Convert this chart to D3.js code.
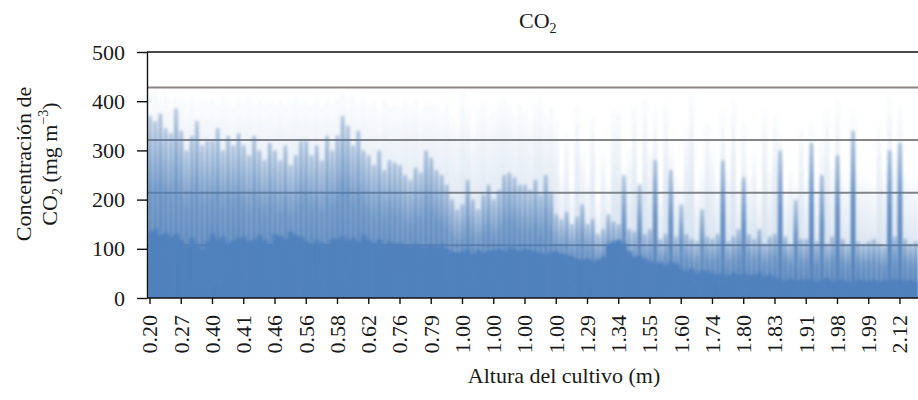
<!DOCTYPE html>
<html>
<head>
<meta charset="utf-8">
<script src="https://cdn.jsdelivr.net/npm/d3@7.9.0/dist/d3.min.js"></script>
<style>
  body { margin: 0; background: #fff; }
  svg { display: block; font-family: "Liberation Serif", "DejaVu Serif", serif; }
  .axis text { font-size: 22px; fill: #1a1a1a; font-family: "Liberation Serif", serif; }
  .axis path, .axis line { stroke: #111; stroke-width: 1.4; }
</style>
</head>
<body>
<svg id="chart" width="918" height="400"></svg>
<script>
// labels shown under every 6th sample (crop height, m)
const tickLabels = [
  "0.20", "0.27", "0.40", "0.41", "0.46", "0.56", "0.58", "0.62", "0.76", "0.79",
  "1.00", "1.00", "1.00", "1.00", "1.29", "1.34", "1.55", "1.60", "1.74", "1.80",
  "1.83", "1.91", "1.98", "1.99", "2.12",
];
const yTicks = [0, 100, 200, 300, 400, 500];
const refLines = [107, 214, 321, 428];

// CO2 per sample: solid floor, typical top, faint max
const base = [
  135, 140, 128, 132, 125, 130, 118, 105, 122, 110, 100, 115,
  130, 120, 125, 112, 118, 122, 125, 115, 120, 128, 118, 110,
  130, 126, 120, 135, 128, 124, 115, 110, 118, 112, 108, 120,
  120, 125, 118, 122, 115, 128, 118, 112, 120, 108, 115, 110,
  112, 108, 105, 110, 106, 104, 108, 104, 110, 100, 95, 92,
  95, 100, 90, 98, 92, 96, 98, 100, 95, 102, 100, 96,
  100, 98, 95, 92, 90, 94, 95, 90, 88, 85, 80, 78,
  80, 75, 78, 84, 110, 115, 118, 110, 95, 85, 86, 80,
  75, 70, 72, 68, 74, 70, 58, 55, 60, 52, 56, 54,
  52, 48, 50, 46, 52, 48, 50, 46, 48, 52, 44, 48,
  42, 38, 35, 40, 36, 38, 38, 36, 34, 38, 40, 35,
  36, 38, 34, 32, 38, 35, 34, 36, 32, 35, 33, 38,
  38, 35, 36, 34,
];
const mid = [
  370, 360, 375, 345, 335, 385, 340, 300, 330, 360, 310, 320,
  320, 345, 300, 330, 310, 335, 310, 290, 330, 300, 280, 315,
  300, 280, 310, 270, 290, 320, 320, 290, 310, 280, 330, 300,
  330, 370, 350, 310, 340, 300, 290, 270, 300, 260, 280, 275,
  270, 250, 240, 265, 255, 300, 285, 260, 250, 230, 200, 180,
  190, 240, 200, 180, 210, 230, 200, 220, 250, 255, 245, 230,
  230, 220, 240, 210, 250, 215, 170, 160, 175, 150, 165, 190,
  150, 160, 130, 140, 170, 155, 150, 250, 140, 135, 230, 130,
  140, 280, 120, 130, 260, 125, 190, 130, 120, 115, 180, 125,
  120, 130, 280, 115, 125, 140, 245, 130, 120, 140, 110, 125,
  130, 300, 125, 110, 200, 120, 120, 315, 115, 250, 110, 125,
  290, 120, 110, 340, 115, 110, 115, 120, 110, 105, 300, 125,
  315, 120, 110, 115,
];
const peak = [
  415, 420, 410, 418, 405, 412, 410, 400, 415, 395, 405, 400,
  405, 395, 410, 400, 390, 408, 400, 410, 395, 405, 398, 402,
  395, 405, 390, 400, 410, 398, 400, 395, 410, 390, 405, 400,
  410, 420, 405, 415, 400, 408, 395, 400, 385, 405, 390, 395,
  390, 400, 395, 405, 385, 395, 395, 390, 380, 400, 370, 360,
  420, 390, 350, 380, 400, 370, 380, 400, 410, 390, 370, 395,
  380, 360, 400, 410, 370, 390, 360, 250, 340, 220, 390, 300,
  250, 370, 200, 300, 230, 380, 380, 260, 300, 390, 240, 410,
  300, 380, 220, 395, 310, 250, 240, 350, 420, 220, 260, 360,
  300, 240, 380, 260, 400, 230, 360, 250, 300, 220, 380, 260,
  370, 340, 220, 260, 230, 345, 240, 360, 230, 320, 380, 270,
  400, 250, 240, 380, 260, 245, 240, 230, 350, 260, 410, 300,
  390, 250, 240, 245,
];

const svg = d3.select("#chart");
const margin = { top: 52, left: 147, bottom: 102 };
const width = 918;
const height = 400;
const barColor = "#4f81bd";

const x = d3
  .scaleBand()
  .domain(d3.range(base.length))
  .range([margin.left + 0.4, width + 0.2])
  .padding(0);

const y = d3
  .scaleLinear()
  .domain([0, 500])
  .range([height - margin.bottom, margin.top]);

// fading fills so the bar tops blur out like the original
const defs = svg.append("defs");
const fades = [
  { id: "fadePeak", stops: [[0, 0.02], [0.5, 0.18], [1, 0.3]] },
  { id: "fadeMid", stops: [[0, 0.2], [0.4, 0.7], [1, 0.95]] },
];
fades.forEach((f) => {
  defs
    .append("linearGradient")
    .attr("id", f.id)
    .attr("x1", 0)
    .attr("y1", 0)
    .attr("x2", 0)
    .attr("y2", 1)
    .selectAll("stop")
    .data(f.stops)
    .join("stop")
    .attr("offset", (d) => d[0])
    .attr("stop-color", barColor)
    .attr("stop-opacity", (d) => d[1]);
});
defs
  .append("filter")
  .attr("id", "soft")
  .append("feGaussianBlur")
  .attr("stdDeviation", "0.9 1.4");

const clip = defs.append("clipPath").attr("id", "plotClip");
clip
  .append("rect")
  .attr("x", margin.left)
  .attr("y", margin.top)
  .attr("width", width - margin.left)
  .attr("height", y(0) - margin.top);

// reference lines sit behind the bars
svg
  .append("g")
  .selectAll("line")
  .data(refLines)
  .join("line")
  .attr("x1", margin.left)
  .attr("x2", width)
  .attr("y1", (d) => y(d))
  .attr("y2", (d) => y(d))
  .attr("stroke", (d, i) => (i === 3 ? "#8f8585" : "#858585"))
  .attr("stroke-width", 2);

const bars = svg.append("g").attr("clip-path", "url(#plotClip)");
const soft = bars.append("g").attr("filter", "url(#soft)");

const layers = [
  { values: peak, fill: "url(#fadePeak)" },
  { values: mid, fill: "url(#fadeMid)" },
];

soft
  .selectAll("g.layer")
  .data(layers)
  .join("g")
  .attr("class", "layer")
  .attr("fill", (d) => d.fill)
  .selectAll("rect")
  .data((d) => d.values)
  .join("rect")
  .attr("x", (_, i) => x(i))
  .attr("width", x.bandwidth())
  .attr("y", (d) => y(d))
  .attr("height", (d) => y(0) - y(d));

// thin darker streaks up the middle of each sample
soft
  .append("g")
  .attr("stroke", "#3d6296")
  .attr("stroke-opacity", 0.35)
  .attr("stroke-width", 1.3)
  .selectAll("line")
  .data(mid)
  .join("line")
  .attr("x1", (_, i) => x(i) + x.bandwidth() / 2)
  .attr("x2", (_, i) => x(i) + x.bandwidth() / 2)
  .attr("y1", y(0))
  .attr("y2", (d) => y(d));

soft
  .append("g")
  .attr("fill", barColor)
  .selectAll("rect")
  .data(base)
  .join("rect")
  .attr("x", (_, i) => x(i))
  .attr("width", x.bandwidth() + 0.3)
  .attr("y", (d) => y(d))
  .attr("height", (d) => y(0) - y(d) + 4);

// top frame
svg
  .append("line")
  .attr("x1", margin.left)
  .attr("x2", width)
  .attr("y1", y(500))
  .attr("y2", y(500))
  .attr("stroke", "#111")
  .attr("stroke-width", 1.4);

const xAxis = svg
  .append("g")
  .attr("class", "axis")
  .attr("transform", `translate(0,${y(0)})`)
  .call(
    d3
      .axisBottom(x)
      .tickValues(d3.range(0, base.length, 6))
      .tickFormat((i) => tickLabels[i / 6])
      .tickSize(6)
      .tickSizeOuter(0),
  );

xAxis.select(".domain").attr("d", `M${margin.left},0H${width}`);

xAxis
  .selectAll("text")
  .attr("transform", "rotate(-90)")
  .attr("text-anchor", "end")
  .attr("x", -17)
  .attr("y", 0)
  .attr("dy", "0.34em");

svg
  .append("g")
  .attr("class", "axis")
  .attr("transform", `translate(${margin.left},0)`)
  .call(d3.axisLeft(y).tickValues(yTicks).tickSize(10).tickSizeOuter(0).tickPadding(12));

// title with subscript
const title = svg
  .append("text")
  .attr("x", 519)
  .attr("y", 28)
  .attr("font-size", 22)
  .attr("fill", "#1a1a1a");
title.append("tspan").text("CO");
title.append("tspan").attr("font-size", 14).attr("dy", 5).text("2");

svg
  .append("text")
  .attr("x", 564)
  .attr("y", 383)
  .attr("text-anchor", "middle")
  .attr("font-size", 22)
  .attr("fill", "#1a1a1a")
  .text("Altura del cultivo (m)");

const yLabel = svg
  .append("g")
  .attr("transform", "translate(0,164) rotate(-90)")
  .attr("font-size", 22)
  .attr("fill", "#1a1a1a");

yLabel
  .append("text")
  .attr("x", 0)
  .attr("y", 31)
  .attr("text-anchor", "middle")
  .text("Concentración de");

const line2 = yLabel
  .append("text")
  .attr("x", 0)
  .attr("y", 57)
  .attr("text-anchor", "middle");
line2.append("tspan").text("CO");
line2.append("tspan").attr("font-size", 14).attr("dy", 5).text("2");
line2.append("tspan").attr("dy", -5).text(" (mg m");
line2.append("tspan").attr("font-size", 14).attr("dy", -9).text("−3");
line2.append("tspan").attr("dy", 9).text(")");
</script>
</body>
</html>
